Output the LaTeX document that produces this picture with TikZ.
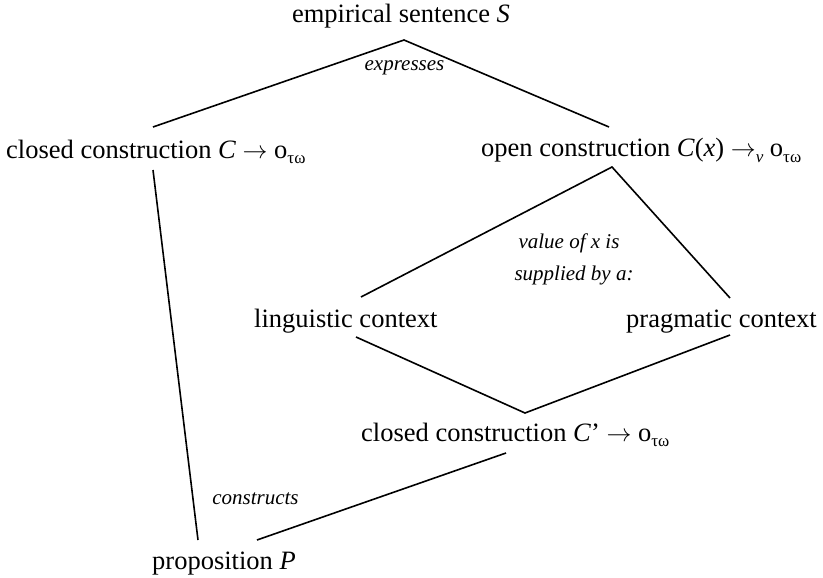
\documentclass[tikz,border=0pt]{standalone}
\usepackage{fontspec}
\setmainfont{LiberationSerif}[Extension=.ttf, UprightFont=*-Regular, ItalicFont=*-Italic, BoldFont=*-Bold, BoldItalicFont=*-BoldItalic]
\newcommand{\lsub}[1]{\raisebox{-0.22em}{\fontsize{17}{17}\selectfont #1}}
\newcommand{\arr}{\ensuremath{\rightarrow}}
\tikzset{
  lbl/.style={inner sep=0pt, font=\fontsize{26.5}{30}\selectfont},
  note/.style={inner sep=0pt, font=\fontsize{21}{24}\selectfont\itshape},
  conn/.style={line width=1.6pt, line cap=butt},
}
\begin{document}
\begin{tikzpicture}[x=1pt,y=-1pt]
\useasboundingbox (0,0) rectangle (823,578);
% text nodes
\node[lbl, anchor=base] (S) at (401,23) {empirical sentence \textit{S}};
\node[lbl, anchor=base west] (CC) at (6,158) {closed construction \textit{C} \arr{} o\lsub{τω}};
\node[lbl, anchor=base west] (OC) at (481,157) {open construction \textit{C}(\textit{x}) \arr\lsub{\textit{v}} o\lsub{τω}};
\node[lbl, anchor=base west] (LC) at (254,327) {linguistic context};
\node[lbl, anchor=base west] (PC) at (626,327) {pragmatic context};
\node[lbl, anchor=base west] (CP) at (361,441) {closed construction \textit{C}’ \arr{} o\lsub{τω}};
\node[lbl, anchor=base west] (P) at (152,569) {proposition \textit{P}};
% italic labels
\node[note, anchor=base] (expr) at (404.5,70.5) {expresses};
\node[note, anchor=base] (val1) at (569,248) {value of \textit{x} is};
\node[note, anchor=base] (val2) at (574,280) {supplied by a:};
\node[note, anchor=base] (cons) at (255.5,504) {constructs};
% connector end points
\coordinate (Sapex) at (404,40);
\coordinate (CCtop) at (153,127);
\coordinate (CCbot) at (153,170);
\coordinate (OCtop) at (609,127);
\coordinate (OCbot) at (612,167);
\coordinate (LCtop) at (361,297);
\coordinate (LCbot) at (356,337);
\coordinate (PCtop) at (730,298);
\coordinate (PCbot) at (730,335);
\coordinate (CPtop) at (525,413);
\coordinate (CPbot) at (506,453);
\coordinate (Ptopl) at (198,540);
\coordinate (Ptopr) at (257,540);
% connectors
\draw[conn] (CCtop) -- (Sapex) -- (OCtop);
\draw[conn] (CCbot) -- (Ptopl);
\draw[conn] (LCtop) -- (OCbot) -- (PCtop);
\draw[conn] (LCbot) -- (CPtop) -- (PCbot);
\draw[conn] (CPbot) -- (Ptopr);
\end{tikzpicture}
\end{document}
